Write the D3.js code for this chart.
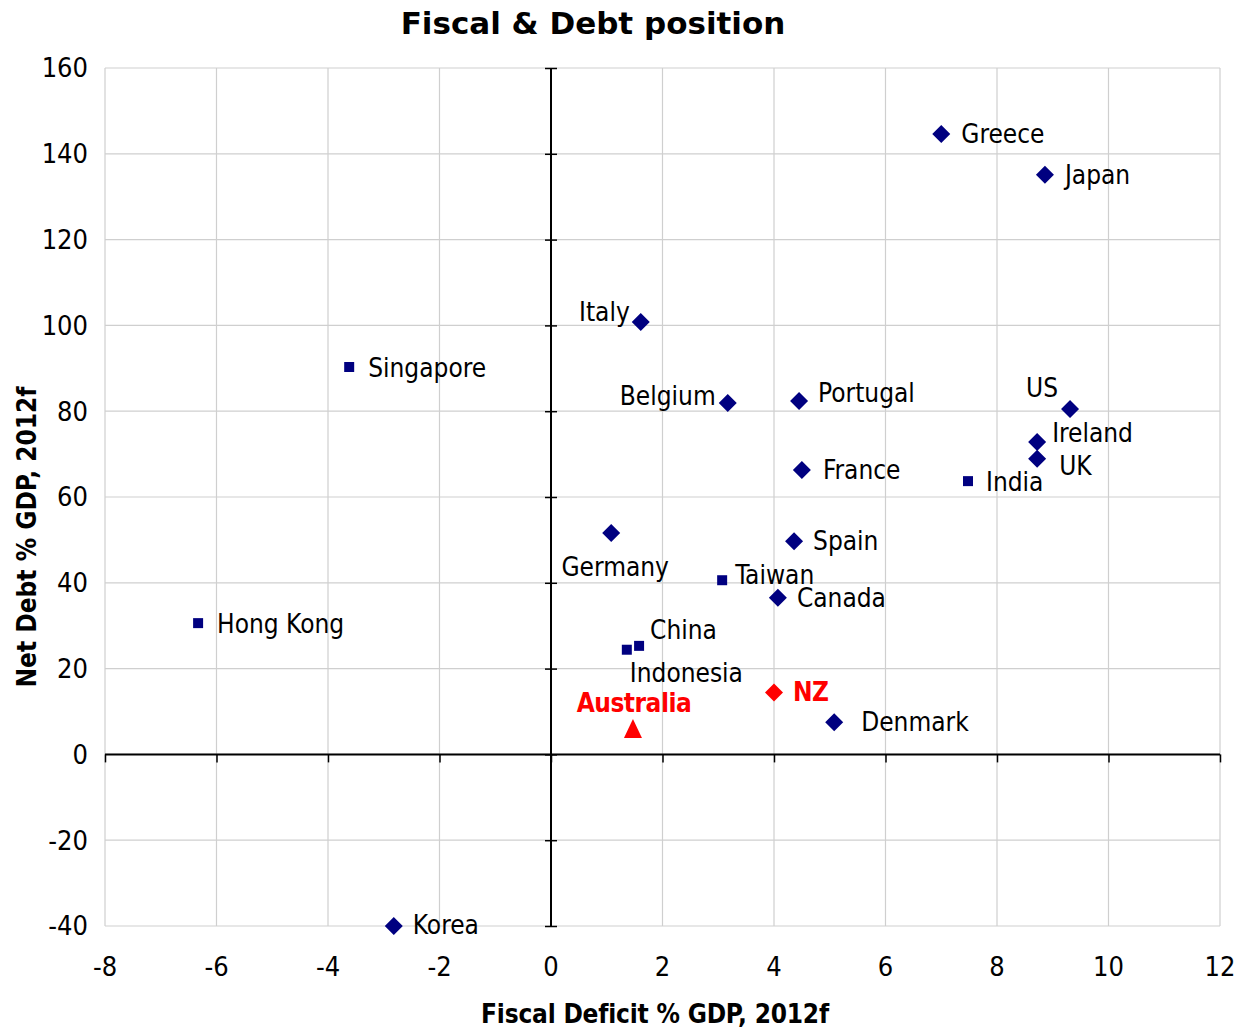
<!DOCTYPE html>
<html>
<head>
<meta charset="utf-8">
<script src="https://cdn.jsdelivr.net/npm/d3@7"></script>
<style>
  html, body { margin: 0; padding: 0; background: #fff; }
  svg { display: block; }
</style>
</head>
<body>
<div id="chart"></div>
<script>
// ---- Data ----
const countries = ["Greece","Japan","Italy","Singapore","Belgium","Portugal","US","Ireland","UK","France","India","Germany","Spain","Taiwan","Canada","Hong Kong","China","Indonesia","NZ","Australia","Denmark","Korea"];
const fiscalDeficit = [7.0, 8.86, 1.61, -3.62, 3.17, 4.45, 9.31, 8.72, 8.72, 4.5, 7.48, 1.08, 4.36, 3.07, 4.07, -6.33, 1.58, 1.36, 4.0, 1.47, 5.08, -2.82];
const netDebt = [144.6, 135.1, 100.8, 90.3, 81.9, 82.4, 80.5, 72.8, 68.9, 66.3, 63.7, 51.6, 49.7, 40.6, 36.5, 30.6, 25.3, 24.4, 14.4, 5.9, 7.5, -40];
const group = ["OECD","OECD","OECD","Asia","OECD","OECD","OECD","OECD","OECD","OECD","Asia","OECD","OECD","Asia","OECD","Asia","Asia","Asia","NZ","Australia","OECD","OECD"];
const xTicks = [-8,-6,-4,-2,0,2,4,6,8,10,12];
const yTicks = [-40,-20,0,20,40,60,80,100,120,140,160];
const chartTitle = "Fiscal & Debt position";
const xTitle = "Fiscal Deficit % GDP, 2012f";
const yTitle = "Net Debt % GDP, 2012f";

// ---- Label placement (pixel offsets from the marker, layout only) ----
const labelPlacement = {
  "Greece":   {dx: 20, dy: 0, anchor: "start"},
  "Japan":    {dx: 20, dy: 0, anchor: "start"},
  "Italy":    {dx: -11, dy: -10, anchor: "end"},
  "Singapore":{dx: 19, dy: 1, anchor: "start"},
  "Belgium":  {dx: -12, dy: -7, anchor: "end"},
  "Portugal": {dx: 19, dy: -8, anchor: "start"},
  "US":       {dx: -12, dy: -21, anchor: "end"},
  "Ireland":  {dx: 15, dy: -9, anchor: "start"},
  "UK":       {dx: 22, dy: 7, anchor: "start"},
  "France":   {dx: 21, dy: 0, anchor: "start"},
  "India":    {dx: 18, dy: 1, anchor: "start"},
  "Germany":  {dx: 4, dy: 34, anchor: "middle"},
  "Spain":    {dx: 19, dy: 0, anchor: "start"},
  "Taiwan":   {dx: 13, dy: -5, anchor: "start"},
  "Canada":   {dx: 19, dy: 0, anchor: "start"},
  "Hong Kong":{dx: 19, dy: 1, anchor: "start"},
  "China":    {dx: 11, dy: -16, anchor: "start"},
  "Indonesia":{dx: 3, dy: 23, anchor: "start"},
  "NZ":       {dx: 19, dy: -1, anchor: "start"},
  "Australia":{dx: 1, dy: -26, anchor: "middle"},
  "Denmark":  {dx: 27, dy: 0, anchor: "start"},
  "Korea":    {dx: 19, dy: -1, anchor: "start"}
};

const W = 1242, H = 1029;
const plot = {left: 105, right: 1220, top: 68, bottom: 926};
const navy = "#000080", red = "#ff0000";
const labelFont = "'DejaVu Sans Condensed', 'DejaVu Sans', sans-serif";

const svg = d3.select("#chart").append("svg").attr("width", W).attr("height", H);

const x = d3.scaleLinear().domain([-8, 12]).range([plot.left, plot.right]);
const y = d3.scaleLinear().domain([-40, 160]).range([plot.bottom, plot.top]);

// gridlines
const grid = svg.append("g");
grid.selectAll("line.v").data(xTicks).join("line")
  .attr("x1", d => x(d)).attr("x2", d => x(d))
  .attr("y1", plot.top).attr("y2", plot.bottom)
  .attr("stroke", "#cfcfcf").attr("stroke-width", 1.2);
grid.selectAll("line.h").data(yTicks).join("line")
  .attr("y1", d => y(d)).attr("y2", d => y(d))
  .attr("x1", plot.left).attr("x2", plot.right)
  .attr("stroke", "#cfcfcf").attr("stroke-width", 1.2);

// x axis along y=0 (ticks downward)
const xAxis = d3.axisBottom(x).tickValues(xTicks).tickSize(8).tickFormat("");
const gx = svg.append("g").attr("transform", `translate(0,${y(0)})`).call(xAxis);
gx.select(".domain").attr("stroke", "#000").attr("stroke-width", 2).attr("d", `M${plot.left},0H${plot.right}`);
gx.selectAll(".tick line").attr("stroke", "#000").attr("stroke-width", 1.5);

// y axis along x=0 (cross ticks)
const yAxis = d3.axisLeft(y).tickValues(yTicks).tickSize(6).tickFormat("");
const gy = svg.append("g").attr("transform", `translate(${x(0)},0)`).call(yAxis);
gy.select(".domain").attr("stroke", "#000").attr("stroke-width", 2).attr("d", `M0,${plot.top}V${plot.bottom}`);
gy.selectAll(".tick line").attr("stroke", "#000").attr("stroke-width", 1.5).attr("x1", 6).attr("x2", -6);

// tick labels
svg.append("g").selectAll("text").data(yTicks).join("text")
  .attr("x", 88).attr("y", d => y(d)).attr("dy", "0.35em")
  .attr("text-anchor", "end")
  .style("font-family", labelFont).style("font-size", "27px").attr("fill", "#000")
  .text(d => d);
svg.append("g").selectAll("text").data(xTicks).join("text")
  .attr("x", d => x(d)).attr("y", 967).attr("dy", "0.35em")
  .attr("text-anchor", "middle")
  .style("font-family", labelFont).style("font-size", "27px").attr("fill", "#000")
  .text(d => d);

// titles
svg.append("text").attr("x", 593).attr("y", 23).attr("dy", "0.35em")
  .attr("text-anchor", "middle")
  .style("font-family", "'DejaVu Sans', sans-serif").style("font-weight", "bold").style("font-size", "31px")
  .text(chartTitle);
svg.append("text").attr("x", 655).attr("y", 1014).attr("dy", "0.35em")
  .attr("text-anchor", "middle")
  .style("font-family", labelFont).style("font-weight", "bold").style("font-size", "26px")
  .style("letter-spacing", "-0.2px")
  .text(xTitle);
svg.append("text").attr("transform", "translate(27,537) rotate(-90)").attr("dy", "0.35em")
  .attr("text-anchor", "middle")
  .style("font-family", labelFont).style("font-weight", "bold").style("font-size", "26px")
  .text(yTitle);

// markers
const points = countries.map((c, i) => ({name: c, fx: fiscalDeficit[i], nd: netDebt[i], g: group[i]}));
const shapePath = g => {
  if (g === "Asia") return "M-5,-5H5V5H-5Z";
  if (g === "Australia") return "M0,-10L9,9H-9Z";
  return "M0,-9L9,0L0,9L-9,0Z";
};
const colorOf = g => (g === "NZ" || g === "Australia") ? red : navy;

svg.append("g").selectAll("path").data(points).join("path")
  .attr("transform", d => `translate(${x(d.fx)},${y(d.nd)})`)
  .attr("d", d => shapePath(d.g))
  .attr("fill", d => colorOf(d.g));

// labels
svg.append("g").selectAll("text").data(points).join("text")
  .attr("x", d => x(d.fx) + labelPlacement[d.name].dx)
  .attr("y", d => y(d.nd) + labelPlacement[d.name].dy)
  .attr("dy", "0.35em")
  .attr("text-anchor", d => labelPlacement[d.name].anchor)
  .style("font-family", labelFont)
  .style("font-size", "26px")
  .style("font-weight", d => colorOf(d.g) === red ? "bold" : "normal")
  .style("letter-spacing", d => colorOf(d.g) === red ? "-0.5px" : "0px")
  .attr("fill", d => colorOf(d.g) === red ? red : "#000")
  .text(d => d.name);
</script>
</body>
</html>
